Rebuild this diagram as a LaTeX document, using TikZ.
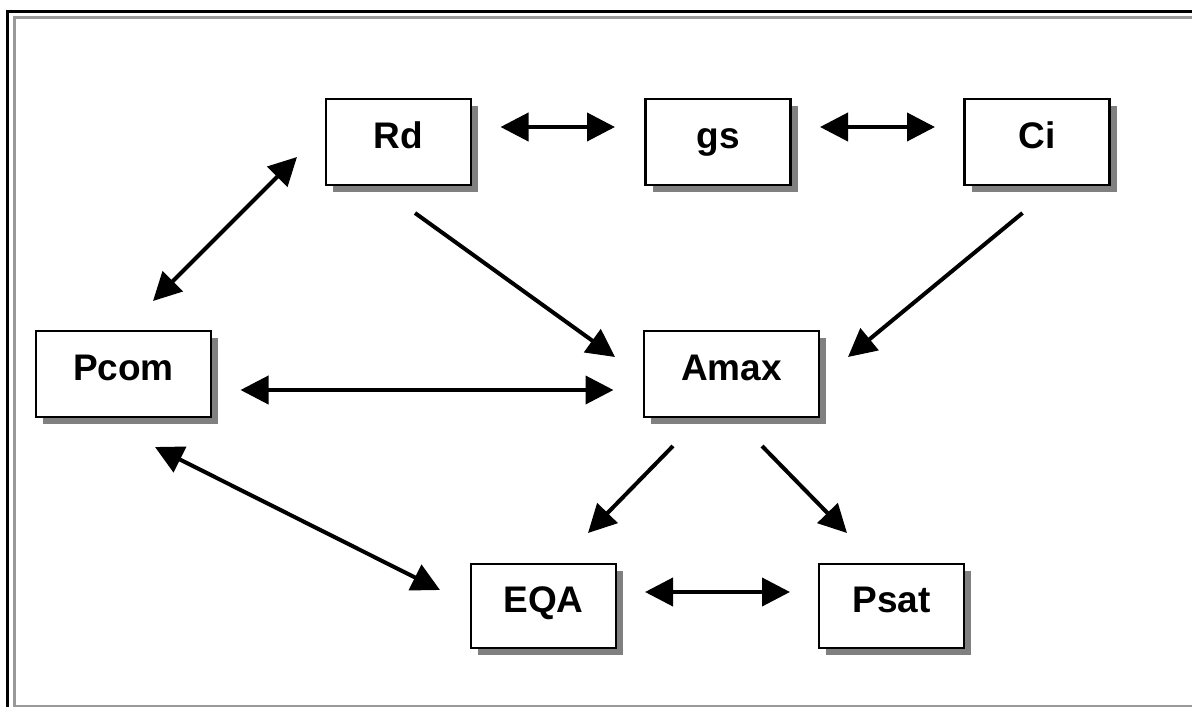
\documentclass[tikz,border=0pt]{standalone}
\usepackage{fontspec}
\setmainfont{Liberation Sans}
\usetikzlibrary{arrows.meta,shadows,calc}
\begin{document}
\begin{tikzpicture}[x=1pt,y=-1pt,
  box/.style={draw=black,line width=2.5pt,fill=white,inner sep=0pt,
    font=\fontsize{37}{44}\selectfont\bfseries,text height=27pt,text depth=15pt,
    drop shadow={shadow xshift=7pt,shadow yshift=-7pt,fill=black!50,opacity=1}},
  smallbox/.style={box,minimum width=145pt,minimum height=86pt},
  widebox/.style={box,minimum width=175pt,minimum height=86pt},
  link/.style={line width=4pt,-{Triangle[length=28pt,width=28pt]}},
  both/.style={line width=4pt,{Triangle[length=28pt,width=28pt]}-{Triangle[length=28pt,width=28pt]}}]
\useasboundingbox (0,0) rectangle (1192,707);
\clip (0,0) rectangle (1192,707);
% frame
\draw[black!40,line width=3pt] (14,17) rectangle (1260,706);
\draw[black,line width=3pt] (7,11) rectangle (1260,760);
% nodes
\node[smallbox] (Rd) at (398.5,142) {Rd};
\node[smallbox] (gs) at (718,142) {gs};
\node[smallbox] (Ci) at (1037,142) {Ci};
\node[widebox] (Pcom) at (123.5,374) {Pcom};
\node[widebox] (Amax) at (731.5,374) {Amax};
\node[smallbox,minimum height=84pt] (EQA) at (543.5,606) {EQA};
\node[smallbox,minimum height=84pt] (Psat) at (891.5,606) {Psat};
% connectors
\draw[both] ($(Rd.center)+(102,-15)$) -- ($(gs.center)+(-103,-15)$);
\draw[both] ($(gs.center)+(102,-15)$) -- ($(Ci.center)+(-102,-15)$);
\draw[both] ($(EQA.center)+(101.5,-14)$) -- ($(Psat.center)+(-101.5,-14)$);
\draw[both] ($(Pcom.center)+(117,16)$) -- ($(Amax.center)+(-118,16)$);
\draw[both] ($(Pcom.center)+(29.5,-73)$) -- ($(Rd.center)+(-101.5,15)$);
\draw[both] ($(Pcom.center)+(31.5,73)$) -- ($(EQA.center)+(-103.5,-16)$);
\draw[link] ($(Rd.center)+(16.5,71)$) -- ($(Amax.center)+(-116.5,-17)$);
\draw[link] ($(Ci.center)+(-14.5,71)$) -- ($(Amax.center)+(116.5,-17)$);
\draw[link] ($(Amax.center)+(-58.5,72)$) -- ($(EQA.center)+(44.5,-73)$);
\draw[link] ($(Amax.center)+(30.5,72)$) -- ($(Psat.center)+(-44.5,-73)$);
\end{tikzpicture}
\end{document}
